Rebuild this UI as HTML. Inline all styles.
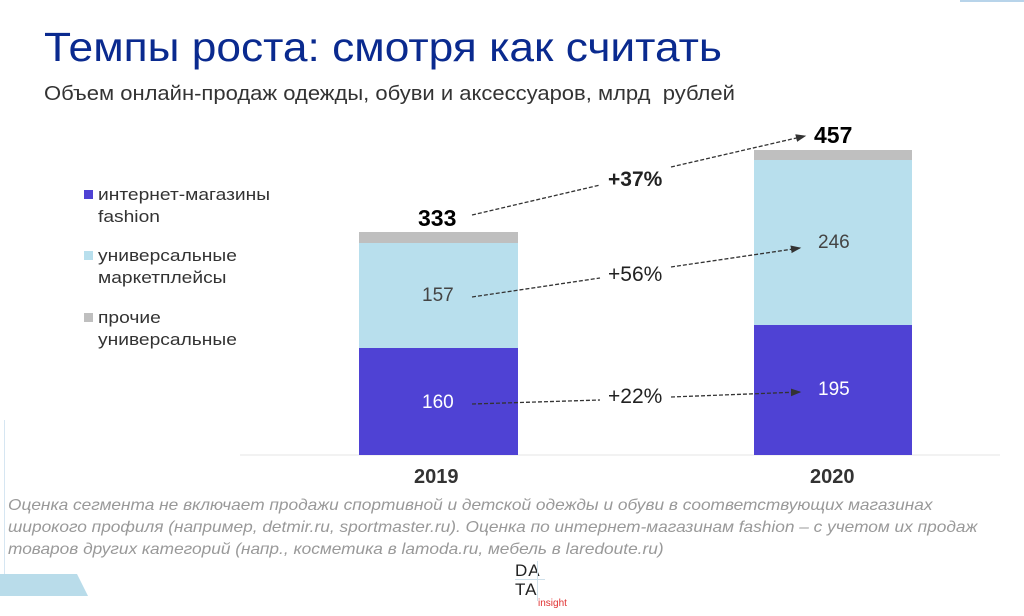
<!DOCTYPE html>
<html><head><meta charset="utf-8"><style>
body{margin:0;width:1024px;height:616px;background:#fff;overflow:hidden;font-family:"Liberation Sans",sans-serif;position:relative}
.a{position:absolute;white-space:nowrap;transform-origin:0 0}
</style></head><body>
<div style="position:absolute;left:960px;top:0;width:64px;height:2px;background:#b8d4ea"></div>
<div style="position:absolute;left:4px;top:420px;width:1px;height:155px;background:#d6e6f2"></div>
<svg class="a" style="left:0;top:0" width="1024" height="616">
<polygon points="0,574 77,574 88,596 0,596" fill="#b9dcea"/>
<line x1="240" y1="455" x2="1000" y2="455" stroke="#e6e6e6" stroke-width="1"/>
<rect x="359" y="232" width="159" height="11" fill="#bfbfbf"/>
<rect x="359" y="243" width="159" height="105" fill="#b8dfed"/>
<rect x="359" y="348" width="159" height="107" fill="#4f42d4"/>
<rect x="754" y="150" width="158" height="10" fill="#bfbfbf"/>
<rect x="754" y="160" width="158" height="165" fill="#b8dfed"/>
<rect x="754" y="325" width="158" height="130" fill="#4f42d4"/>
<defs><marker id="m" markerWidth="8" markerHeight="8" refX="7" refY="4" orient="auto"><path d="M0,1 L8,4 L0,7z" fill="#333"/></marker></defs>
<g stroke="#333" stroke-width="1.3" stroke-dasharray="4,2" fill="none">
<line x1="472" y1="215" x2="600" y2="185"/><line x1="671" y1="167" x2="805" y2="136" marker-end="url(#m)"/>
<line x1="472" y1="297" x2="600" y2="278"/><line x1="671" y1="267" x2="800" y2="248" marker-end="url(#m)"/>
<line x1="472" y1="404" x2="600" y2="400"/><line x1="671" y1="397" x2="800" y2="392" marker-end="url(#m)"/>
</g>
<rect x="84" y="190" width="9" height="9" fill="#4f42d4"/>
<rect x="84" y="251" width="9" height="9" fill="#b8dfed"/>
<rect x="84" y="313" width="9" height="9" fill="#bfbfbf"/>
</svg>
<div class="a" style="left:44px;top:24px;font-size:41px;color:#0a2a8f;transform:scaleX(1.08)">Темпы роста: смотря как считать</div>
<div class="a" style="left:44px;top:83px;font-size:20px;color:#333;transform:scaleX(1.1)">Объем онлайн-продаж одежды, обуви и аксессуаров, млрд&nbsp; рублей</div>
<div class="a" style="left:98px;top:184px;font-size:17px;color:#333;line-height:22px;transform:scaleX(1.13)">интернет-магазины<br>fashion</div>
<div class="a" style="left:98px;top:245px;font-size:17px;color:#333;line-height:22px;transform:scaleX(1.13)">универсальные<br>маркетплейсы</div>
<div class="a" style="left:98px;top:307px;font-size:17px;color:#333;line-height:22px;transform:scaleX(1.13)">прочие<br>универсальные</div>
<div class="a" style="left:418px;top:205px;font-size:23px;font-weight:bold;color:#000">333</div>
<div class="a" style="left:814px;top:122px;font-size:23px;font-weight:bold;color:#000">457</div>
<div class="a" style="left:608px;top:168px;font-size:21px;font-weight:bold;color:#222">+37%</div>
<div class="a" style="left:608px;top:263px;font-size:21px;color:#222">+56%</div>
<div class="a" style="left:608px;top:385px;font-size:21px;color:#222">+22%</div>
<div class="a" style="left:422px;top:285px;font-size:19px;color:#444">157</div>
<div class="a" style="left:818px;top:232px;font-size:19px;color:#444">246</div>
<div class="a" style="left:422px;top:392px;font-size:19px;color:#fff">160</div>
<div class="a" style="left:818px;top:379px;font-size:19px;color:#fff">195</div>
<div class="a" style="left:414px;top:466px;font-size:20px;font-weight:bold;color:#333">2019</div>
<div class="a" style="left:810px;top:466px;font-size:20px;font-weight:bold;color:#333">2020</div>
<div class="a" style="left:8px;top:495px;font-size:16px;font-style:italic;color:#999;line-height:22px;transform:scaleX(1.08)">Оценка сегмента не включает продажи спортивной и детской одежды и обуви в соответствующих магазинах<br>широкого профиля (например, detmir.ru, sportmaster.ru). Оценка по интернет-магазинам fashion – с учетом их продаж<br>товаров других категорий (напр., косметика в lamoda.ru, мебель в laredoute.ru)</div>
<div class="a" style="left:515px;top:561px;font-size:17px;color:#222;letter-spacing:1px;line-height:19px">DA<br>TA</div>
<div style="position:absolute;left:515px;top:579px;width:30px;height:1px;background:#cfe0ea"></div>
<div style="position:absolute;left:537px;top:561px;width:1px;height:40px;background:#cfe0ea"></div>
<div class="a" style="left:538px;top:598px;font-size:10px;color:#e03030">insight</div>
</body></html>
